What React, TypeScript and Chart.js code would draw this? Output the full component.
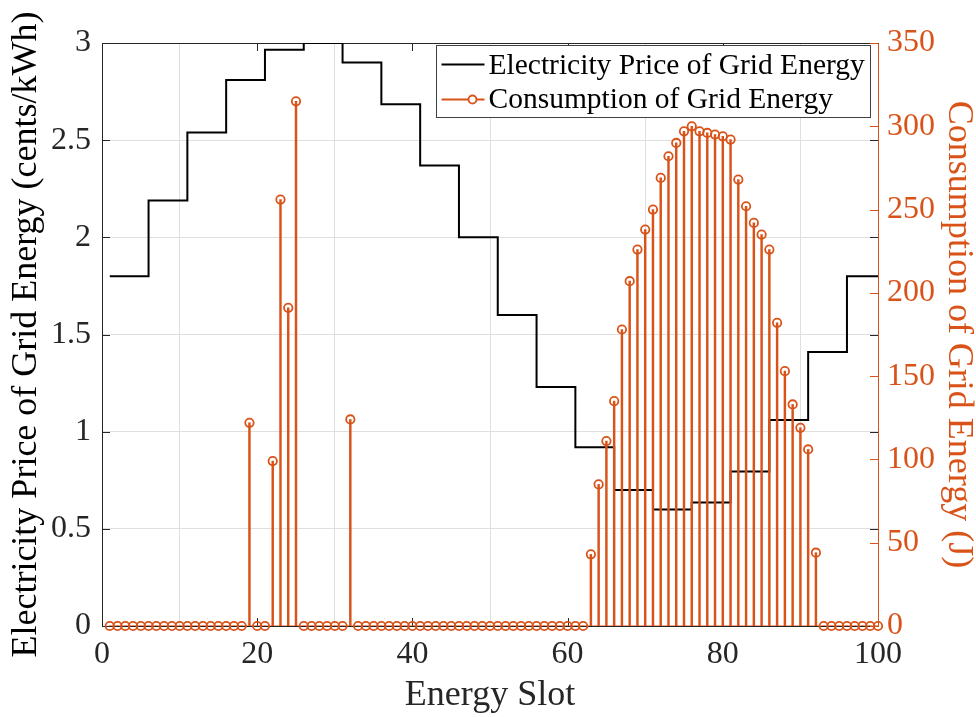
import React, { useEffect, useRef } from 'react';
import { Chart, registerables } from 'chart.js';

Chart.register(...registerables);

// ---------- data ----------
const slotCount = 100;
const priceBlockLength = 5; // each price level lasts 5 energy slots
const priceLevels = [
  1.8, 2.19, 2.54, 2.81, 2.965, 3.0, 2.9, 2.685, 2.37, 2.0,
  1.6, 1.23, 0.92, 0.70, 0.60, 0.635, 0.795, 1.06, 1.41, 1.8,
];
const consumption = [
  0, 0, 0, 0, 0, 0, 0, 0, 0, 0,
  0, 0, 0, 0, 0, 0, 0, 0, 122, 0,
  0, 99, 256, 191, 315, 0, 0, 0, 0, 0,
  0, 124, 0, 0, 0, 0, 0, 0, 0, 0,
  0, 0, 0, 0, 0, 0, 0, 0, 0, 0,
  0, 0, 0, 0, 0, 0, 0, 0, 0, 0,
  0, 0, 43, 85, 111, 135, 178, 207, 226, 238,
  250, 269, 282, 290, 297, 300, 297, 296, 295, 294,
  292, 268, 252, 242, 235, 226, 182, 153, 133, 119,
  106, 44, 0, 0, 0, 0, 0, 0, 0, 0,
];
const xTicks = [0, 20, 40, 60, 80, 100];
const leftTicks = [0, 0.5, 1, 1.5, 2, 2.5, 3];
const rightTicks = [0, 50, 100, 150, 200, 250, 300, 350];

const ORANGE = '#D95319';
const DARK = '#262626';
const GRID = '#dfdfdf';
const FONT = "'Liberation Serif', 'Times New Roman', Times, serif";

const slots = consumption.map((_, i) => i + 1);
const pricePoints = slots.map((s) => ({ x: s, y: priceLevels[Math.floor((s - 1) / priceBlockLength)] }));
const consumptionPoints = slots.map((s, i) => ({ x: s, y: consumption[i] }));

const framePlugin = {
  id: 'frame',
  beforeDatasetsDraw(chart: any) {
    const { ctx, chartArea, scales } = chart;
    const { left, right, top, bottom } = chartArea;
    const tl = 8;
    const c = (v: number) => Math.round(v) + 0.5;
    ctx.save();
    ctx.lineWidth = 1;
    ctx.strokeStyle = DARK;
    ctx.beginPath();
    leftTicks.forEach((v) => {
      const py = c(scales.y.getPixelForValue(v));
      ctx.moveTo(left, py);
      ctx.lineTo(left + tl, py);
      ctx.moveTo(right, py);
      ctx.lineTo(right - tl, py);
    });
    xTicks.forEach((v) => {
      const px = c(scales.x.getPixelForValue(v));
      ctx.moveTo(px, bottom);
      ctx.lineTo(px, bottom - tl);
      ctx.moveTo(px, top);
      ctx.lineTo(px, top + tl);
    });
    ctx.moveTo(c(left), c(top));
    ctx.lineTo(c(right), c(top));
    ctx.moveTo(c(left), c(top));
    ctx.lineTo(c(left), c(bottom));
    ctx.lineTo(c(right), c(bottom));
    ctx.stroke();
    ctx.strokeStyle = ORANGE;
    ctx.beginPath();
    rightTicks.forEach((v) => {
      const py = c(scales.y1.getPixelForValue(v));
      ctx.moveTo(right, py);
      ctx.lineTo(right - tl, py);
    });
    ctx.moveTo(c(right), c(top));
    ctx.lineTo(c(right), c(bottom));
    ctx.stroke();
    ctx.restore();
  },
};

const legendPlugin = {
  id: 'boxLegend',
  afterDraw(chart: any) {
    const { ctx, chartArea } = chart;
    const w = 434;
    const h = 72;
    const x0 = Math.round(chartArea.right - 442.5) + 0.5;
    const y0 = Math.round(chartArea.top + 2) + 0.5;
    ctx.save();
    ctx.fillStyle = '#ffffff';
    ctx.fillRect(x0, y0, w, h);
    ctx.strokeStyle = '#404040';
    ctx.lineWidth = 1;
    ctx.strokeRect(x0, y0, w, h);
    const items = chart.data.datasets
      .filter((d: any) => d.legendEntry)
      .sort((a: any, b: any) => a.legendIndex - b.legendIndex);
    const rowY = [y0 + 19, y0 + 54];
    const textY = [y0 + 21, y0 + 55];
    items.forEach((d: any, i: number) => {
      const ly = rowY[i];
      ctx.strokeStyle = d.legendColor;
      ctx.lineWidth = d.legendEntry === 'line' ? 2 : 1.8;
      ctx.beginPath();
      ctx.moveTo(x0 + 5, ly);
      ctx.lineTo(x0 + 48, ly);
      ctx.stroke();
      if (d.legendEntry === 'stem') {
        ctx.fillStyle = '#ffffff';
        ctx.beginPath();
        ctx.arc(x0 + 36, ly, 4, 0, Math.PI * 2);
        ctx.fill();
        ctx.stroke();
      }
      ctx.fillStyle = '#000000';
      ctx.font = `29.5px ${FONT}`;
      ctx.textBaseline = 'middle';
      ctx.textAlign = 'left';
      ctx.fillText(d.label, x0 + 52, textY[i]);
    });
    ctx.restore();
  },
};

const fmt = (v: any) => String(v);

export default function App() {
  const canvasRef = useRef<HTMLCanvasElement | null>(null);

  useEffect(() => {
    const canvas = canvasRef.current;
    if (!canvas) return;
    const chart = new Chart(canvas, {
      type: 'line',
      data: {
        datasets: [
          {
            type: 'line',
            label: 'Consumption markers',
            data: consumptionPoints,
            yAxisID: 'y1',
            showLine: false,
            pointStyle: 'circle',
            pointRadius: 4.2,
            pointBorderWidth: 1.8,
            pointBorderColor: ORANGE,
            pointBackgroundColor: 'rgba(255,255,255,0)',
            borderColor: ORANGE,
            clip: false,
            order: 1,
          } as any,
          {
            type: 'bar',
            label: 'Consumption of Grid Energy',
            legendEntry: 'stem',
            legendIndex: 2,
            legendColor: ORANGE,
            data: consumptionPoints,
            yAxisID: 'y1',
            backgroundColor: ORANGE,
            borderWidth: 0,
            barThickness: 1.8,
            order: 2,
          } as any,
          {
            type: 'line',
            label: 'Baseline',
            data: [{ x: 1, y: 0 }, { x: slotCount, y: 0 }],
            yAxisID: 'y1',
            borderColor: ORANGE,
            borderWidth: 1,
            pointRadius: 0,
            order: 3,
          } as any,
          {
            type: 'line',
            label: 'Electricity Price of Grid Energy',
            legendEntry: 'line',
            legendIndex: 1,
            legendColor: '#000000',
            data: pricePoints,
            yAxisID: 'y',
            stepped: 'before',
            borderColor: '#000000',
            borderWidth: 2,
            pointRadius: 0,
            fill: false,
            order: 4,
          } as any,
        ],
      },
      options: {
        responsive: false,
        animation: false,
        events: [],
        layout: { padding: { top: 43, left: 0, right: 0, bottom: 0 } },
        plugins: {
          legend: { display: false },
          tooltip: { enabled: false },
        },
        scales: {
          x: {
            type: 'linear',
            min: 0,
            max: 100,
            offset: false,
            afterFit: (s: any) => { s.height = 91; },
            afterBuildTicks: (s: any) => { s.ticks = xTicks.map((v) => ({ value: v })); },
            ticks: {
              color: DARK,
              font: { family: FONT, size: 32 },
              padding: 9,
              maxRotation: 0,
              autoSkip: false,
              callback: fmt,
            },
            grid: { color: GRID, drawTicks: false, lineWidth: 1 },
            border: { display: false },
            title: {
              display: true,
              text: 'Energy Slot',
              color: DARK,
              font: { family: FONT, size: 36 },
              padding: 0,
            },
          },
          y: {
            type: 'linear',
            position: 'left',
            min: 0,
            max: 3,
            afterFit: (s: any) => { s.width = 102; },
            afterBuildTicks: (s: any) => { s.ticks = leftTicks.map((v) => ({ value: v })); },
            ticks: {
              color: DARK,
              font: { family: FONT, size: 32 },
              padding: 11,
              autoSkip: false,
              callback: fmt,
            },
            grid: { color: GRID, drawTicks: false, lineWidth: 1 },
            border: { display: false },
            title: {
              display: true,
              text: 'Electricity Price of Grid Energy (cents/kWh)',
              color: '#000000',
              font: { family: FONT, size: 36 },
              padding: { top: 5, bottom: 0 },
            },
          },
          y1: {
            type: 'linear',
            position: 'right',
            min: 0,
            max: 350,
            afterFit: (s: any) => { s.width = 98; },
            afterBuildTicks: (s: any) => { s.ticks = rightTicks.map((v) => ({ value: v })); },
            ticks: {
              color: ORANGE,
              font: { family: FONT, size: 32 },
              padding: 9,
              autoSkip: false,
              callback: fmt,
            },
            grid: { display: false, drawTicks: false },
            border: { display: false },
            title: {
              display: true,
              text: 'Consumption of Grid Energy (J)',
              color: ORANGE,
              font: { family: FONT, size: 36 },
              padding: { top: -4, bottom: 0 },
            },
          },
        },
      } as any,
      plugins: [framePlugin, legendPlugin],
    });
    return () => chart.destroy();
  }, []);

  return (
    <div style={{ position: 'absolute', left: 0, top: 0, width: 976, height: 717, background: '#ffffff' }}>
      <canvas ref={canvasRef} width={976} height={717} style={{ display: 'block' }} />
    </div>
  );
}
